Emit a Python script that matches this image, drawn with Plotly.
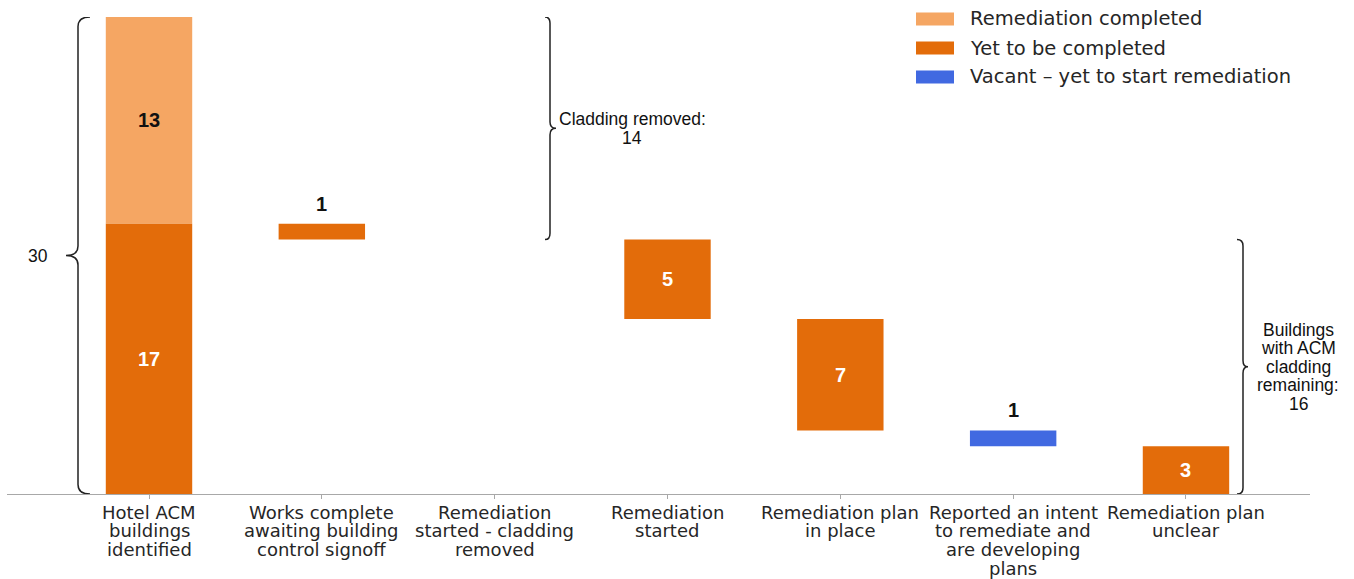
import plotly.graph_objects as go

# categories (one entry per bar, lines of the tick label)
categories = [
    ["Hotel ACM", "buildings", "identified"],
    ["Works complete", "awaiting building", "control signoff"],
    ["Remediation", "started - cladding", "removed"],
    ["Remediation", "started"],
    ["Remediation plan", "in place"],
    ["Reported an intent", "to remediate and", "are developing", "plans"],
    ["Remediation plan", "unclear"],
]
completed = [13, 0, 0, 0, 0, 0, 0]
yet_to_complete = [17, 1, 0, 5, 7, 0, 3]
vacant = [0, 0, 0, 0, 0, 1, 0]

legend_names = ["Remediation completed", "Yet to be completed", "Vacant \u2013 yet to start remediation"]
c_light = "#F5A663"
c_dark = "#E36C0A"
c_blue = "#4169E1"

total = completed[0] + yet_to_complete[0]
cladding_removed = completed[0] + yet_to_complete[1] + yet_to_complete[2]
remaining = total - cladding_removed

# waterfall bases
yet_base, vac_base = [], []
level = yet_to_complete[0]
for i in range(len(categories)):
    if i == 0:
        yet_base.append(0)
        vac_base.append(0)
        continue
    top = level
    yet_base.append(top - yet_to_complete[i])
    vac_base.append(top - yet_to_complete[i] - vacant[i])
    level = top - yet_to_complete[i] - vacant[i]

xs = list(range(len(categories)))

fig = go.Figure()
fig.add_bar(x=[0], y=[completed[0]], base=[yet_to_complete[0]], width=0.5,
            marker=dict(color=c_light, line_width=0), name=legend_names[0])
fig.add_bar(x=[i for i in xs if yet_to_complete[i] > 0],
            y=[v for v in yet_to_complete if v > 0],
            base=[yet_base[i] for i in xs if yet_to_complete[i] > 0], width=0.5,
            marker=dict(color=c_dark, line_width=0), name=legend_names[1])
fig.add_bar(x=[i for i in xs if vacant[i] > 0],
            y=[v for v in vacant if v > 0],
            base=[vac_base[i] for i in xs if vacant[i] > 0], width=0.5,
            marker=dict(color=c_blue, line_width=0), name=legend_names[2])

ann = []
lab_font = dict(family="Liberation Sans, Arial", size=20)


def bar_label(x, base, val, txtcol):
    if val >= 3:
        ann.append(dict(x=x, y=base + val / 2, text="<b>%d</b>" % val, showarrow=False,
                        font=dict(lab_font, color=txtcol), xref="x", yref="y"))
    else:
        ann.append(dict(x=x, y=base + val, text="<b>%d</b>" % val, showarrow=False,
                        yanchor="bottom", yshift=7,
                        font=dict(lab_font, color="#111111"), xref="x", yref="y"))


bar_label(0, yet_to_complete[0], completed[0], "#111111")
for i in xs:
    if yet_to_complete[i] > 0:
        bar_label(i, yet_base[i], yet_to_complete[i], "white")
    if vacant[i] > 0:
        bar_label(i, vac_base[i], vacant[i], "white")

# tick labels, one annotation per line
tick_font = dict(family="DejaVu Sans", size=18, color="#262626")
for i, lines in enumerate(categories):
    for k, line in enumerate(lines):
        ann.append(dict(x=i, y=0, xref="x", yref="y", text=line, showarrow=False,
                        yanchor="middle", yshift=-18 - 18.8 * k, font=tick_font))


def px_x(px):
    return (px - 149) / 172.83


def brace(xv, xtip, xend, y0, y1, r):
    # y0 top, y1 bottom
    mid = (y0 + y1) / 2
    return ("M {e},{a} Q {v},{a} {v},{a2} L {v},{m1} Q {v},{m} {t},{m} "
            "Q {v},{m} {v},{m2} L {v},{b2} Q {v},{b} {e},{b}").format(
        e=xend, v=xv, t=xtip, a=y0, a2=y0 - r, m1=mid + r, m=mid, m2=mid - r,
        b2=y1 + r, b=y1)


shapes = [
    dict(type="path", xref="x", yref="y",
         path=brace(px_x(78), px_x(66), px_x(90), total, 0, 0.6),
         line=dict(color="#222222", width=1.5)),
    dict(type="path", xref="x", yref="y",
         path=brace(px_x(550), px_x(556), px_x(545), total, remaining, 0.4),
         line=dict(color="#222222", width=1.5)),
    dict(type="path", xref="x", yref="y",
         path=brace(px_x(1243), px_x(1248), px_x(1237), remaining, 0, 0.4),
         line=dict(color="#222222", width=1.5)),
]

brace_font = dict(family="Liberation Sans, Arial", size=17.5, color="#111111")
ann.append(dict(x=px_x(38), y=total / 2, xref="x", yref="y", text=str(total),
                showarrow=False, font=brace_font))


def multi(x, y, lines, step=18.6):
    n = len(lines)
    for k, line in enumerate(lines):
        ann.append(dict(x=x, y=y, xref="x", yref="y", text=line, showarrow=False,
                        yshift=((n - 1) / 2 - k) * step, font=brace_font))


multi(px_x(632), (total + remaining) / 2, ["Cladding removed:", str(cladding_removed)])
multi(px_x(1298), remaining / 2, ["Buildings", "with ACM", "cladding", "remaining:", str(remaining)])

# legend drawn by hand (wide patches)
W, H, L, T = 1354, 579, 7, 17
pw, ph = W - L - 44, H - T - 85


def xp(px):
    return (px - L) / pw


def yp(py):
    return (H - 85 - py) / ph


for k, (name, col) in enumerate(zip(legend_names, [c_light, c_dark, c_blue])):
    cy = 19 + 29 * k
    shapes.append(dict(type="rect", xref="paper", yref="paper", x0=xp(916), x1=xp(954),
                       y0=yp(cy + 6.5), y1=yp(cy - 6.5), fillcolor=col, line_width=0))
    ann.append(dict(x=xp(968), y=yp(cy), xref="paper", yref="paper", text=name,
                    showarrow=False, xanchor="left", yanchor="middle",
                    font=dict(family="DejaVu Sans", size=19.5, color="#262626")))

fig.update_layout(
    width=W, height=H,
    margin=dict(l=L, r=44, t=T, b=85),
    plot_bgcolor="white", paper_bgcolor="white",
    showlegend=False,
    barmode="overlay",
    xaxis=dict(range=[px_x(7), px_x(1310)], tickvals=xs, showticklabels=False,
               ticks="outside", ticklen=4, tickcolor="#a8a8a8", showline=True,
               linecolor="#a8a8a8", linewidth=1.3, showgrid=False, zeroline=False),
    yaxis=dict(range=[0, total], visible=False),
    shapes=shapes,
    annotations=ann,
)

fig.write_html("out.html", config={"displayModeBar": False},
               post_script="document.body.style.margin='0';")
